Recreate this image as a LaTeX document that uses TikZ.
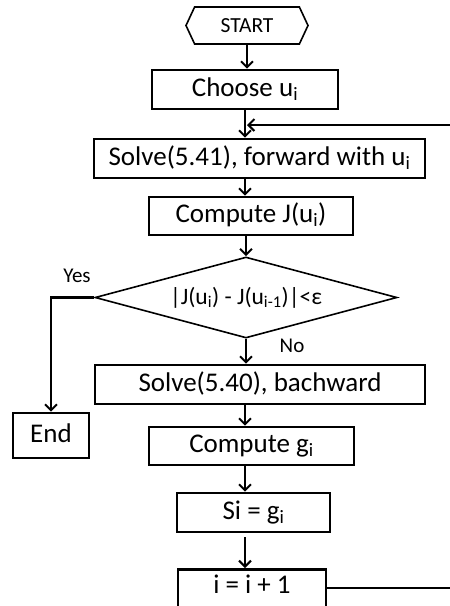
\documentclass[tikz,border=0pt]{standalone}
\usepackage{fontspec}
\setmainfont{Carlito}
\usetikzlibrary{shapes.geometric,shapes.symbols,arrows.meta}
\newcommand{\sbi}[1]{\textsubscript{#1}}
\begin{document}
\begin{tikzpicture}[x=1pt,y=-1pt,
  box/.style={draw,line width=2.6pt,inner sep=0pt,text height=18pt,text depth=5pt,font=\fontsize{27}{30}\selectfont},
  conn/.style={line width=2.2pt,-{Straight Barb[length=6pt,width=12pt,line width=2pt]}},
  lbl/.style={font=\fontsize{21}{24}\selectfont}]
\useasboundingbox (0,0) rectangle (450,606);
\node[draw,line width=1.6pt,signal,signal to=east and west,signal pointer angle=130,
  minimum width=122pt,minimum height=37pt,inner sep=0pt,font=\fontsize{21.5}{24}\selectfont] (start) at (247,25.5) {START};
\node[box,minimum width=186pt,minimum height=39pt] (choose) at (245,89.5) {Choose u\sbi{i}};
\node[box,minimum width=331pt,minimum height=39pt] (solve1) at (259.5,158.5) {Solve(5.41), forward with u\sbi{i}};
\node[box,minimum width=204pt,minimum height=38pt] (cj) at (251,216) {Compute J(u\sbi{i})};
\node[draw,line width=1.6pt,diamond,aspect=3.73,inner sep=0pt,minimum width=302pt,minimum height=81pt,
  font=\fontsize{23.5}{26}\selectfont] (dec) at (246,297.5) {|J(u\sbi{i}) - J(u\sbi{i-1})|<ε};
\node[box,minimum width=76pt,minimum height=45pt] (end) at (51,435.5) {End};
\node[box,minimum width=330pt,minimum height=39pt] (solve2) at (260,384.5) {Solve(5.40), bachward};
\node[box,minimum width=205pt,minimum height=38pt] (cg) at (251.5,446) {Compute g\sbi{i}};
\node[box,minimum width=153pt,minimum height=39pt] (si) at (253.5,512.5) {Si = g\sbi{i}};
\node[box,minimum width=148pt,anchor=north,text height=24pt,text depth=40pt] (inc) at (252,568) {i = i + 1};
\node[lbl] (yes) at (77,276) {Yes};
\node[lbl] (no) at (292,346) {No};
\coordinate (loopin) at (247,125);
\draw[conn] (start.south) -- (start.south |- choose.north);
\draw[conn] (choose.south) -- (choose.south |- solve1.north);
\draw[conn] ([yshift=-20pt]inc.north east) -- ++(130,0) |- (loopin);
\draw[conn] (245,0 |- solve1.south) -- (245,0 |- cj.north);
\draw[conn] (cj.south -| dec.north) -- (dec.north);
\draw[conn] (dec.west) -| (end.north);
\draw[conn] (dec.south) -- (dec.south |- solve2.north);
\draw[conn] (245,0 |- solve2.south) -- (245,0 |- cg.north);
\draw[conn] (245,0 |- cg.south) -- (245,0 |- si.north);
\draw[conn] (245,537) -- (245,0 |- inc.north);
\end{tikzpicture}
\end{document}
